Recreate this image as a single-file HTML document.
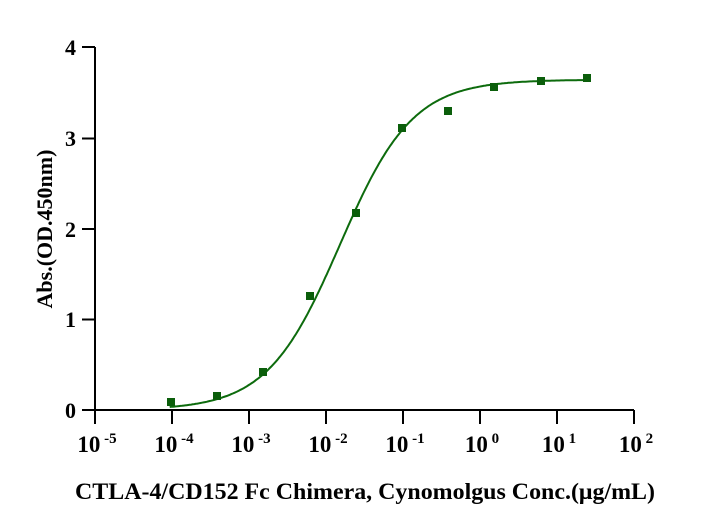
<!DOCTYPE html>
<html><head><meta charset="utf-8"><style>
body{margin:0;background:#fff;}
svg{display:block;font-family:"Liberation Serif",serif;font-weight:bold;}
</style></head><body>
<svg id="s" width="708" height="529" viewBox="0 0 708 529">
<g stroke="#000" stroke-width="2" fill="none">
<line x1="95" y1="47" x2="95" y2="411"/>
<line x1="82" y1="410" x2="634" y2="410"/>
<line x1="82" y1="47" x2="95" y2="47"/>
<line x1="82" y1="138.5" x2="95" y2="138.5"/>
<line x1="82" y1="229" x2="95" y2="229"/>
<line x1="82" y1="319.5" x2="95" y2="319.5"/>
<line x1="95" y1="410" x2="95" y2="424"/>
<line x1="172" y1="410" x2="172" y2="424"/>
<line x1="249" y1="410" x2="249" y2="424"/>
<line x1="326" y1="410" x2="326" y2="424"/>
<line x1="403" y1="410" x2="403" y2="424"/>
<line x1="480" y1="410" x2="480" y2="424"/>
<line x1="557" y1="410" x2="557" y2="424"/>
<line x1="634" y1="410" x2="634" y2="424"/>
</g>
<g font-size="22" text-anchor="end">
<text x="76" y="55">4</text><text x="76" y="146">3</text><text x="76" y="237">2</text><text x="76" y="327">1</text><text x="76" y="418">0</text>
</g>
<g font-size="23" text-anchor="middle" id="xt"></g>
<text font-size="22" x="0" y="0" text-anchor="middle" transform="translate(52,229) rotate(-90)">Abs.(OD.450nm)</text>
<text font-size="23" x="365" y="499" text-anchor="middle" textLength="580" lengthAdjust="spacingAndGlyphs">CTLA-4/CD152 Fc Chimera, Cynomolgus Conc.(μg/mL)</text>
<path id="c" fill="none" stroke="#0d6b0d" stroke-width="2"/>
<g id="p" fill="#0b5e0b"></g>
</svg>
<script>
var ns="http://www.w3.org/2000/svg";
var xt=document.getElementById('xt');
var ex=["-5","-4","-3","-2","-1","0","1","2"];
for(var i=0;i<8;i++){var t=document.createElementNS(ns,'text');t.setAttribute('x',97+77*i);t.setAttribute('y',452);
t.innerHTML='10<tspan font-size="15" dy="-9"> '+ex[i]+'</tspan>';xt.appendChild(t);}
function px(l){return 95+(l+5)*77;}function py(v){return 410-v*90.75;}
var d="";for(var l=-4.03;l<=1.41;l+=0.02){var y=0.0+(3.64-0.0)/(1+Math.pow(10,(-1.82-l)*0.92));d+=(d?"L":"M")+px(l).toFixed(1)+","+py(y).toFixed(1);}
document.getElementById('c').setAttribute('d',d);
var pts=[[171,402],[217,396],[263,372],[310,296],[356,213],[402,128],[448,111],[494,87],[541,81],[587,78]];
var g=document.getElementById('p');pts.forEach(function(p){var r=document.createElementNS(ns,'rect');r.setAttribute('x',p[0]-4);r.setAttribute('y',p[1]-4);r.setAttribute('width',8);r.setAttribute('height',8);g.appendChild(r);});
</script>
</body></html>
